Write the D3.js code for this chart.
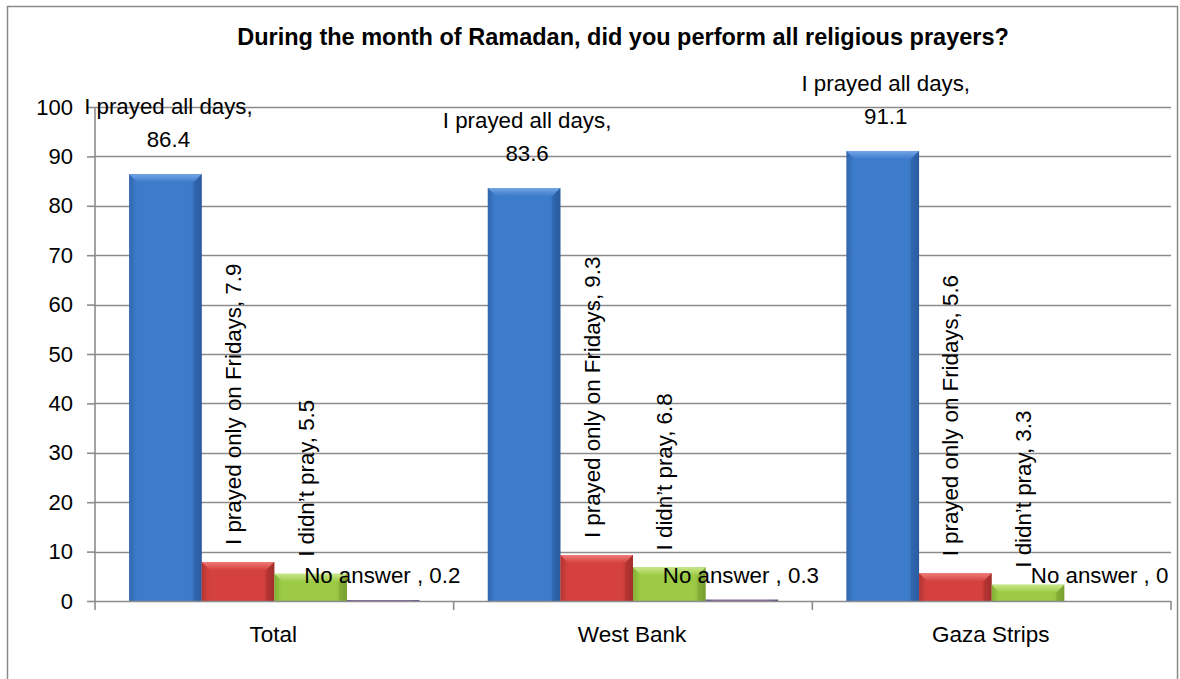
<!DOCTYPE html>
<html>
<head>
<meta charset="utf-8">
<script src="https://cdn.jsdelivr.net/npm/d3@7/dist/d3.min.js"></script>
<style>
  html, body { margin: 0; padding: 0; background: #fff; }
  svg { display: block; font-family: "Liberation Sans", Arial, sans-serif; }
</style>
</head>
<body>
<svg id="chart" width="1180" height="679"></svg>
<script>
const title = "During the month of Ramadan, did you perform all religious prayers?";
const categories = ["Total", "West Bank", "Gaza Strips"];
const seriesNames = ["I prayed all days", "I prayed only on Fridays", "I didn\u2019t pray", "No answer "];
const prayedAllDays = [86.4, 83.6, 91.1];
const prayedFridays = [7.9, 9.3, 5.6];
const didntPray = [5.5, 6.8, 3.3];
const noAnswer = [0.2, 0.3, 0];
const yTicks = [0, 10, 20, 30, 40, 50, 60, 70, 80, 90, 100];

const seriesValues = [prayedAllDays, prayedFridays, didntPray, noAnswer];
const palette = [
  { body: "#3D7BCB", light: "#73A6E6", dark: "#2A5C9E" },
  { body: "#D4413E", light: "#EE7B78", dark: "#A22E2C" },
  { body: "#9CCA44", light: "#C8E68A", dark: "#77A030" },
  { body: "#8064A2", light: "#A58DC2", dark: "#5F4A7D" }
];

const svg = d3.select("#chart");
const plot = { left: 95, right: 1171, top: 107, bottom: 601 };
const labelSize = 22.3;

// outer chart border
svg.append("rect").attr("x", 7.5).attr("y", 6.5).attr("width", 1170).attr("height", 720)
  .attr("fill", "#fff").attr("stroke", "#8a8a8a").attr("stroke-width", 1.5);

const defs = svg.append("defs");
palette.forEach((c, i) => {
  const g = defs.append("linearGradient").attr("id", "grad" + i)
    .attr("x1", "0%").attr("x2", "100%").attr("y1", "0%").attr("y2", "0%");
  g.append("stop").attr("offset", "0%").attr("stop-color", c.dark);
  g.append("stop").attr("offset", "10%").attr("stop-color", c.body);
  g.append("stop").attr("offset", "85%").attr("stop-color", c.body);
  g.append("stop").attr("offset", "100%").attr("stop-color", c.dark);
  const t = defs.append("linearGradient").attr("id", "top" + i)
    .attr("x1", "0%").attr("x2", "0%").attr("y1", "0%").attr("y2", "100%");
  t.append("stop").attr("offset", "0%").attr("stop-color", c.light);
  t.append("stop").attr("offset", "100%").attr("stop-color", c.body);
});

const y = d3.scaleLinear().domain([0, 100]).range([plot.bottom, plot.top]);
const x0 = d3.scaleBand().domain(categories).range([plot.left, plot.right]).padding(0);
const x1 = d3.scaleBand().domain(d3.range(seriesNames.length)).range([0, x0.bandwidth()])
  .paddingInner(0).paddingOuter(0.47);

// gridlines
svg.append("g").selectAll("line").data(yTicks.filter(d => d > 0)).join("line")
  .attr("x1", plot.left).attr("x2", plot.right)
  .attr("y1", d => Math.round(y(d)) + 0.5).attr("y2", d => Math.round(y(d)) + 0.5)
  .attr("stroke", "#8c8c8c").attr("stroke-width", 1.6);

// y axis
const yAxis = d3.axisLeft(y).tickValues(yTicks).tickSize(8).tickPadding(14).tickFormat(d3.format("d"));
const gy = svg.append("g").attr("transform", `translate(${plot.left},0)`).call(yAxis);
gy.select(".domain").remove();
gy.selectAll(".tick line").attr("stroke", "#8c8c8c").attr("stroke-width", 1.6);
gy.selectAll(".tick text").attr("font-size", 22).attr("fill", "#000")
  .attr("font-family", "Liberation Sans, Arial, sans-serif");
svg.append("line").attr("x1", plot.left).attr("x2", plot.left)
  .attr("y1", plot.top).attr("y2", plot.bottom + 9)
  .attr("stroke", "#8c8c8c").attr("stroke-width", 1.6);

// bars
const bars = [];
categories.forEach((cat, ci) => {
  seriesValues.forEach((vals, si) => {
    bars.push({ cat, ci, si, v: vals[ci],
      x: x0(cat) + x1(si), w: x1.bandwidth(), top: y(vals[ci]), base: y(0) });
  });
});

const barG = svg.append("g");
bars.forEach(b => {
  const h = b.base - b.top;
  if (h <= 0) return;
  const g = barG.append("g");
  g.append("rect").attr("x", b.x).attr("y", b.top).attr("width", b.w).attr("height", h)
    .attr("fill", `url(#grad${b.si})`);
  const bv = Math.min(8, h / 2);
  if (bv >= 2) {
    g.append("polygon").attr("points", [
      [b.x, b.top], [b.x + b.w, b.top], [b.x + b.w - bv, b.top + bv], [b.x + bv, b.top + bv]
    ].map(p => p.join(",")).join(" ")).attr("fill", `url(#top${b.si})`);
    g.append("polygon").attr("points", [
      [b.x, b.top], [b.x + bv, b.top + bv], [b.x + bv, b.base], [b.x, b.base]
    ].map(p => p.join(",")).join(" ")).attr("fill", palette[b.si].body).attr("opacity", 0.35);
    g.append("polygon").attr("points", [
      [b.x + b.w, b.top], [b.x + b.w - bv, b.top + bv], [b.x + b.w - bv, b.base], [b.x + b.w, b.base]
    ].map(p => p.join(",")).join(" ")).attr("fill", palette[b.si].dark).attr("opacity", 0.45);
  }
});

// x axis line and ticks
svg.append("line").attr("x1", plot.left).attr("x2", plot.right)
  .attr("y1", plot.bottom + 0.5).attr("y2", plot.bottom + 0.5)
  .attr("stroke", "#8c8c8c").attr("stroke-width", 1.6);
const boundaries = categories.map(c => x0(c)).concat([x0(categories[categories.length - 1]) + x0.bandwidth()]);
svg.append("g").selectAll("line").data(boundaries.slice(1)).join("line")
  .attr("x1", d => d).attr("x2", d => d)
  .attr("y1", plot.bottom).attr("y2", plot.bottom + 9)
  .attr("stroke", "#8c8c8c").attr("stroke-width", 1.6);
svg.append("g").selectAll("text").data(categories).join("text")
  .attr("x", d => x0(d) + x0.bandwidth() / 2 - 1).attr("y", 642)
  .attr("text-anchor", "middle").attr("font-size", 22.5).attr("fill", "#000")
  .text(d => d);

// data labels
const labG = svg.append("g").attr("font-size", labelSize).attr("fill", "#000");
bars.forEach(b => {
  const cx = b.x + b.w / 2;
  if (b.si === 0) {
    const t = labG.append("text").attr("text-anchor", "middle");
    t.append("tspan").attr("x", cx + 3).attr("y", b.top - 60).text(seriesNames[0] + ",");
    t.append("tspan").attr("x", cx + 3).attr("y", b.top - 27).text(d3.format(".1f")(b.v));
  } else if (b.si === 1 || b.si === 2) {
    const ax = cx - 5, ay = b.top - 17;
    labG.append("text").attr("transform", `translate(${ax},${ay}) rotate(-90)`)
      .attr("text-anchor", "start").attr("dy", "0.36em")
      .text(seriesNames[b.si] + ", " + b.v);
  } else {
    labG.append("text").attr("x", cx - 1).attr("y", b.base - 18)
      .attr("text-anchor", "middle")
      .text(seriesNames[b.si] + ", " + b.v);
  }
});

// title
svg.append("text").attr("x", 623).attr("y", 45).attr("text-anchor", "middle")
  .attr("font-size", 23.5).attr("font-weight", "bold").attr("fill", "#000").text(title);
</script>
</body>
</html>
